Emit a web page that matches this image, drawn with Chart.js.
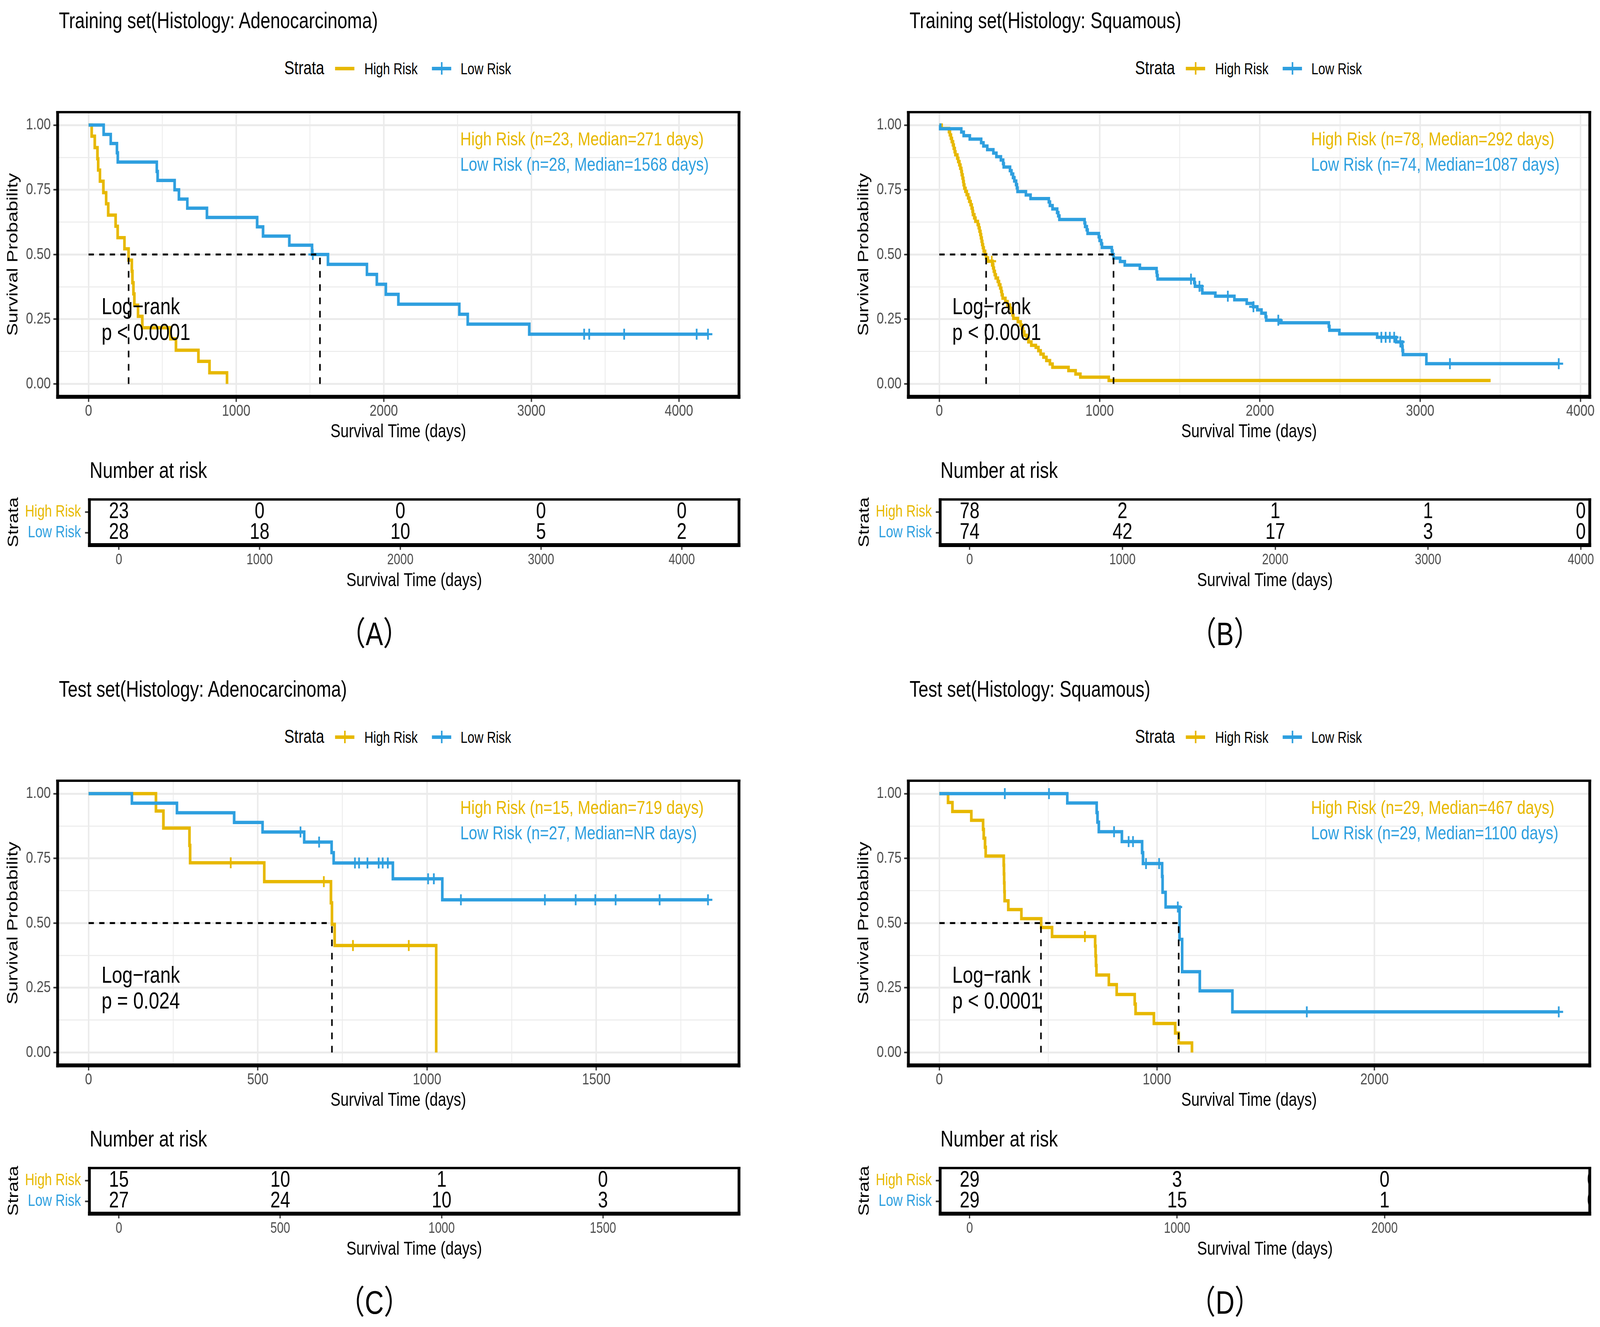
<!DOCTYPE html>
<html>
<head>
<meta charset="utf-8">
<script src="https://cdn.jsdelivr.net/npm/chart.js@4.4.1/dist/chart.umd.min.js"></script>
<style>
html,body{margin:0;padding:0;background:#fff;overflow:hidden;width:100%;height:100%;}
#wrap{position:relative;width:100vw;height:100vh;overflow:hidden;background:#fff;}
#root{position:absolute;left:0;top:0;width:5138px;height:3396px;background:#fff;font-family:"Liberation Sans",Arial,Helvetica,sans-serif;transform-origin:0 0;}
.t{position:absolute;white-space:nowrap;line-height:1;}
canvas{position:absolute;}
.k{position:absolute;}
</style>
</head>
<body>
<div id="wrap"><div id="root"></div></div>
<script>
const FF = '"Liberation Sans", Arial, Helvetica, sans-serif';
const YELLOW = '#E7B800', BLUE = '#2E9FDF', TICKCOL = '#4D4D4D';
const strataNames = ['High Risk', 'Low Risk'];
const kmYTickValues = [0, 0.25, 0.5, 0.75, 1];
const kmYTickLabels = ['0.00', '0.25', '0.50', '0.75', '1.00'];
const kmYMinor = [0.125, 0.375, 0.625, 0.875];

// ---------- Panel A : Training set, Adenocarcinoma ----------
const titleA = 'Training set(Histology: Adenocarcinoma)';
const nA = [23, 28];
const medianA = [271, 1568];
const pA = 'p < 0.0001';
const hiA_time = [21, 42, 60, 65, 77, 100, 119, 133, 183, 197, 243, 271, 293, 297, 304, 310, 335, 364, 554, 592, 744, 819, 938];
const hiA_surv = [0.957, 0.913, 0.870, 0.826, 0.783, 0.739, 0.696, 0.652, 0.609, 0.565, 0.522, 0.478, 0.435, 0.391, 0.348, 0.304, 0.261, 0.217, 0.174, 0.130, 0.087, 0.043, 0];
const hiA_cens = [];
const hiA_end = 938;
const loA_time = [102, 150, 192, 198, 462, 468, 583, 612, 669, 802, 1142, 1182, 1360, 1514, 1622, 1886, 1953, 2014, 2099, 2512, 2569, 2986];
const loA_surv = [0.964, 0.929, 0.893, 0.857, 0.821, 0.786, 0.750, 0.714, 0.679, 0.643, 0.607, 0.571, 0.536, 0.500, 0.462, 0.423, 0.385, 0.346, 0.308, 0.269, 0.231, 0.192];
const loA_cens = [1519, 3358, 3392, 3629, 4120, 4197];
const loA_end = 4197;
const xTicksA = [0, 1000, 2000, 3000, 4000];
const xMinorA = [500, 1500, 2500, 3500];
const riskTimesA = [0, 1000, 2000, 3000, 4000];
const riskHiA = [23, 0, 0, 0, 0];
const riskLoA = [28, 18, 10, 5, 2];

// ---------- Panel B : Training set, Squamous ----------
const titleB = 'Training set(Histology: Squamous)';
const nB = [78, 74];
const medianB = [292, 1087];
const pB = 'p < 0.0001';
const hiB_time = [14,60,66,72,78,85,90,96,100,112,118,125,131,137,140,145,149,152,156,163,171,180,187,195,202,207,210,218,225,240,246,251,256,260,264,268,272,277,285,292,303,332,336,340,346,352,365,372,380,386,390,395,412,425,441,450,457,462,490,507,514,522,530,545,556,574,602,618,632,650,668,690,706,806,850,880,1057];
const hiB_surv = [0.987,0.974,0.962,0.949,0.936,0.923,0.910,0.897,0.885,0.872,0.859,0.846,0.833,0.821,0.808,0.795,0.782,0.769,0.756,0.744,0.731,0.718,0.705,0.692,0.679,0.667,0.654,0.641,0.628,0.615,0.603,0.590,0.577,0.564,0.551,0.538,0.526,0.513,0.500,0.487,0.474,0.461,0.448,0.435,0.422,0.409,0.396,0.383,0.370,0.357,0.344,0.331,0.318,0.305,0.292,0.279,0.266,0.253,0.240,0.227,0.214,0.201,0.188,0.175,0.162,0.149,0.141,0.128,0.115,0.103,0.090,0.077,0.064,0.051,0.038,0.026,0.013];
const hiB_cens = [327];
const hiB_end = 3440;
const loB_time = [5,137,152,190,261,275,299,337,356,384,398,402,441,450,460,468,479,484,488,540,569,683,690,706,735,742,749,906,910,920,925,995,1000,1010,1015,1076,1080,1087,1128,1157,1251,1355,1358,1362,1591,1595,1638,1641,1722,1841,1918,1958,1984,2010,2036,2040,2128,2430,2434,2496,2732,2850,2888,2890,2893,3039];
const loB_surv = [0.986,0.973,0.959,0.946,0.932,0.919,0.905,0.892,0.878,0.865,0.851,0.838,0.824,0.811,0.797,0.784,0.770,0.757,0.743,0.730,0.716,0.703,0.689,0.676,0.662,0.649,0.635,0.622,0.608,0.595,0.581,0.568,0.554,0.541,0.527,0.514,0.500,0.486,0.473,0.459,0.446,0.432,0.419,0.405,0.391,0.377,0.364,0.351,0.339,0.325,0.311,0.298,0.286,0.273,0.259,0.246,0.236,0.222,0.207,0.193,0.180,0.162,0.144,0.129,0.113,0.078];
const loB_cens = [1570, 1623, 1800, 1960, 2115, 2758, 2785, 2811, 2838, 2876, 3186, 3865];
const loB_end = 3865;
const xTicksB = [0, 1000, 2000, 3000, 4000];
const xMinorB = [500, 1500, 2500, 3500];
const riskTimesB = [0, 1000, 2000, 3000, 4000];
const riskHiB = [78, 2, 1, 1, 0];
const riskLoB = [74, 42, 17, 3, 0];

// ---------- Panel C : Test set, Adenocarcinoma ----------
const titleC = 'Test set(Histology: Adenocarcinoma)';
const nC = [15, 27];
const medianC = [719, null];
const pC = 'p = 0.024';
const hiC_time = [199, 221, 298, 300, 519, 716, 719, 727, 1027];
const hiC_surv = [0.933, 0.867, 0.800, 0.733, 0.660, 0.578, 0.495, 0.413, 0];
const hiC_cens = [420, 695, 781, 946];
const hiC_end = 1027;
const loC_time = [128, 261, 430, 514, 637, 718, 724, 899, 1045];
const loC_surv = [0.963, 0.926, 0.889, 0.852, 0.813, 0.772, 0.732, 0.671, 0.590];
const loC_cens = [626, 681, 787, 799, 824, 857, 869, 884, 1003, 1020, 1100, 1348, 1439, 1497, 1557, 1687, 1830];
const loC_end = 1830;
const xTicksC = [0, 500, 1000, 1500];
const xMinorC = [250, 750, 1250, 1750];
const riskTimesC = [0, 500, 1000, 1500];
const riskHiC = [15, 10, 1, 0];
const riskLoC = [27, 24, 10, 3];

// ---------- Panel D : Test set, Squamous ----------
const titleD = 'Test set(Histology: Squamous)';
const nD = [29, 29];
const medianD = [467, 1100];
const pD = 'p < 0.0001';
const hiD_time = [40, 60, 147, 201, 204, 210, 213, 296, 297, 298, 299, 300, 317, 377, 468, 518, 716, 718, 720, 722, 779, 815, 898, 902, 986, 1084, 1100, 1161];
const hiD_surv = [0.966, 0.931, 0.897, 0.862, 0.828, 0.793, 0.759, 0.724, 0.690, 0.655, 0.621, 0.586, 0.552, 0.517, 0.483, 0.448, 0.411, 0.373, 0.336, 0.299, 0.262, 0.224, 0.187, 0.150, 0.112, 0.075, 0.037, 0];
const hiD_cens = [669];
const hiD_end = 1161;
const loD_time = [588, 723, 727, 733, 839, 932, 936, 1024, 1026, 1040, 1104, 1116, 1197, 1347];
const loD_surv = [0.964, 0.927, 0.890, 0.853, 0.815, 0.772, 0.730, 0.680, 0.619, 0.562, 0.437, 0.312, 0.238, 0.157];
const loD_cens = [301, 504, 803, 870, 890, 950, 1010, 1096, 1689, 2847];
const loD_end = 2847;
const xTicksD = [0, 1000, 2000];
const xMinorD = [500, 1500, 2500];
const riskTimesD = [0, 1000, 2000, 3000];
const riskHiD = [29, 3, 0, 0];
const riskLoD = [29, 15, 1, 0];

const labels = ['（A）', '（B）', '（C）', '（D）'];

// ---------------------------------------------------------------
const root = document.getElementById('root');
const DESIGN_W = 5138, DESIGN_H = 3396;
const sx = window.innerWidth / DESIGN_W, sy = window.innerHeight / DESIGN_H;
root.style.transform = 'scale(' + sx + ',' + sy + ')';

function txt(s, x, base, size, color, opts) {
  opts = opts || {};
  const d = document.createElement('div');
  d.className = 't';
  d.textContent = s;
  d.style.left = x + 'px';
  d.style.top = (base - 0.8465 * size) + 'px';
  d.style.fontSize = size + 'px';
  d.style.color = color || '#000';
  if (opts.center) d.style.transform = 'translateX(-50%)';
  if (opts.family) d.style.fontFamily = opts.family;
  root.appendChild(d);
}
function key(cx, cy, color, cross) {
  const l = document.createElement('div');
  l.className = 'k';
  Object.assign(l.style, {left: (cx - 31) + 'px', top: (cy - 4.5) + 'px', width: '62px', height: '9px', background: color});
  root.appendChild(l);
  if (cross) {
    const v = document.createElement('div');
    v.className = 'k';
    Object.assign(v.style, {left: (cx - 2.5) + 'px', top: (cy - 16) + 'px', width: '5px', height: '32px', background: color});
    root.appendChild(v);
  }
}
function mkCanvas(x, y, w, h) {
  const c = document.createElement('canvas');
  c.width = w; c.height = h;
  c.style.left = x + 'px'; c.style.top = y + 'px';
  c.style.width = w + 'px'; c.style.height = h + 'px';
  root.appendChild(c);
  return c;
}
function stepPoints(time, surv, end) {
  const pts = [{x: 0, y: 1}];
  for (let i = 0; i < time.length; i++) pts.push({x: time[i], y: surv[i]});
  const last = pts[pts.length - 1];
  if (end > last.x) pts.push({x: end, y: last.y});
  return pts;
}
function survAt(time, surv, t) {
  let s = 1;
  for (let i = 0; i < time.length; i++) if (time[i] <= t) s = surv[i];
  return s;
}
function framePlugin() {
  return {
    id: 'frame',
    afterDraw(chart) {
      const {ctx, chartArea: a} = chart;
      const lw = 9, tw = 6, bw = 10;
      ctx.save();
      ctx.fillStyle = '#000';
      ctx.fillRect(a.left - lw / 2, a.top - tw / 2, a.right - a.left + lw, tw);
      ctx.fillRect(a.left - lw / 2, a.bottom - bw / 2, a.right - a.left + lw, bw);
      ctx.fillRect(a.left - lw / 2, a.top - tw / 2, lw, a.bottom - a.top + (tw + bw) / 2);
      ctx.fillRect(a.right - lw / 2, a.top - tw / 2, lw, a.bottom - a.top + (tw + bw) / 2);
      ctx.restore();
    }
  };
}

const PLOT_L = 185, PLOT_R = 2373, PLOT_T = 287, PLOT_B = 1015.5;
const TAB_L = 287, TAB_R = 2373, TAB_T = 1264, TAB_B = 1395;
const DPR = Math.max(1, (window.devicePixelRatio || 1) * Math.max(sx, sy));

function kmChart(P, ox, oy) {
  const W = 2400, H = 930, top0 = 237;
  const cv = mkCanvas(ox, oy + top0, W, H);
  const xmin = -0.05 * P.maxTime, xmax = 1.05 * P.maxTime;
  const allX = P.xTicks.concat(P.xMinor).sort((a, b) => a - b);
  const allY = kmYTickValues.concat(kmYMinor).sort((a, b) => a - b);
  const isMajX = v => P.xTicks.indexOf(v) >= 0;
  const isMajY = v => kmYTickValues.indexOf(v) >= 0;
  const ds = [];
  ds.push({type: 'line', data: stepPoints(P.hi.time, P.hi.surv, P.hi.end), stepped: true, borderColor: YELLOW, borderWidth: 8.5, pointRadius: 0, fill: false, order: 6});
  ds.push({type: 'line', data: stepPoints(P.lo.time, P.lo.surv, P.lo.end), stepped: true, borderColor: BLUE, borderWidth: 8.5, pointRadius: 0, fill: false, order: 5});
  ds.push({type: 'scatter', data: P.hi.cens.map(t => ({x: t, y: survAt(P.hi.time, P.hi.surv, t)})), pointStyle: 'cross', pointRadius: 14, pointBorderWidth: 5.5, pointBorderColor: YELLOW, borderColor: YELLOW, order: 4});
  ds.push({type: 'scatter', data: P.lo.cens.map(t => ({x: t, y: survAt(P.lo.time, P.lo.surv, t)})), pointStyle: 'cross', pointRadius: 14, pointBorderWidth: 5.5, pointBorderColor: BLUE, borderColor: BLUE, order: 3});
  const meds = P.medians.filter(m => m != null);
  const mmax = Math.max.apply(null, meds);
  const dash = {type: 'line', borderColor: '#000', borderWidth: 5, borderDash: [17, 17], pointRadius: 0, fill: false, order: 1};
  ds.push(Object.assign({data: [{x: 0, y: 0.5}, {x: mmax, y: 0.5}]}, dash));
  meds.forEach(m => ds.push(Object.assign({data: [{x: m, y: 0}, {x: m, y: 0.5}]}, dash)));

  new Chart(cv, {
    type: 'scatter',
    data: {datasets: ds},
    options: {
      responsive: false, animation: false, events: [], devicePixelRatio: DPR,
      layout: {padding: {left: 0, top: PLOT_T - top0, right: W - PLOT_R, bottom: 0}},
      plugins: {legend: {display: false}, tooltip: {enabled: false}, title: {display: false}},
      scales: {
        x: {
          type: 'linear', min: xmin, max: xmax, bounds: 'data',
          afterBuildTicks: s => { s.ticks = allX.map(v => ({value: v})); },
          afterFit: s => { s.height = H - (PLOT_B - top0); },
          ticks: {autoSkip: false, maxRotation: 0, minRotation: 0, padding: 0, color: TICKCOL, font: {family: FF, size: 41},
                  callback: v => isMajX(v) ? String(v) : ''},
          grid: {color: '#EBEBEB', lineWidth: c => isMajX(c.tick.value) ? 5 : 2.5, drawTicks: true, tickLength: 13, tickWidth: 4,
                 tickColor: c => isMajX(c.tick.value) ? '#333333' : 'rgba(0,0,0,0)'},
          border: {display: false},
          title: {display: true, text: 'Survival Time (days)', color: '#000', font: {family: FF, size: 48}, padding: {top: 0, bottom: 32}}
        },
        y: {
          type: 'linear', min: -0.05, max: 1.05, bounds: 'data',
          afterBuildTicks: s => { s.ticks = allY.map(v => ({value: v})); },
          afterFit: s => { s.width = PLOT_L; },
          ticks: {autoSkip: false, padding: 8.5, color: TICKCOL, font: {family: FF, size: 41},
                  callback: v => { const i = kmYTickValues.indexOf(v); return i >= 0 ? kmYTickLabels[i] : ''; }},
          grid: {color: '#EBEBEB', lineWidth: c => isMajY(c.tick.value) ? 5 : 2.5, drawTicks: true, tickLength: 13.5, tickWidth: 4,
                 tickColor: c => isMajY(c.tick.value) ? '#333333' : 'rgba(0,0,0,0)'},
          border: {display: false},
          title: {display: true, text: 'Survival Probability', color: '#000', font: {family: FF, size: 49}, padding: {top: 13, bottom: 0}}
        }
      }
    },
    plugins: [framePlugin()]
  });
}

function tableChart(P, ox, oy) {
  const W = 2400, H = 290, top0 = 1240;
  const cv = mkCanvas(ox, oy + top0, W, H);
  const xmin = -0.05 * P.maxTime, xmax = 1.05 * P.maxTime;
  const numbers = {
    id: 'numbers',
    afterDatasetsDraw(chart) {
      const {ctx, chartArea: a, scales} = chart;
      ctx.save();
      ctx.beginPath(); ctx.rect(a.left, a.top, a.right - a.left, a.bottom - a.top); ctx.clip();
      ctx.fillStyle = '#000';
      ctx.font = '57px ' + FF;
      ctx.textAlign = 'center'; ctx.textBaseline = 'middle';
      P.riskTimes.forEach((t, i) => {
        const x = scales.x.getPixelForValue(t);
        ctx.fillText(String(P.riskHi[i]), x, scales.y.getPixelForValue(1));
        ctx.fillText(String(P.riskLo[i]), x, scales.y.getPixelForValue(2));
      });
      ctx.restore();
    }
  };
  new Chart(cv, {
    type: 'scatter',
    data: {datasets: [{data: [], pointRadius: 0}]},
    options: {
      responsive: false, animation: false, events: [], devicePixelRatio: DPR,
      layout: {padding: {left: 0, top: TAB_T - top0, right: W - TAB_R, bottom: 0}},
      plugins: {legend: {display: false}, tooltip: {enabled: false}},
      scales: {
        x: {
          type: 'linear', min: xmin, max: xmax, bounds: 'data',
          afterBuildTicks: s => { s.ticks = P.xTicks.map(v => ({value: v})); },
          afterFit: s => { s.height = H - (TAB_B - top0); },
          ticks: {autoSkip: false, maxRotation: 0, minRotation: 0, padding: 3.7, color: TICKCOL, font: {family: FF, size: 38},
                  callback: v => String(v)},
          grid: {drawOnChartArea: false, drawTicks: true, tickLength: 12, tickWidth: 4, tickColor: '#333333'},
          border: {display: false},
          title: {display: true, text: 'Survival Time (days)', color: '#000', font: {family: FF, size: 48}, padding: {top: 0, bottom: 14}}
        },
        y: {
          type: 'linear', min: 0.4, max: 2.6, reverse: true, bounds: 'data',
          afterBuildTicks: s => { s.ticks = [{value: 1}, {value: 2}]; },
          afterFit: s => { s.width = TAB_L; },
          ticks: {autoSkip: false, padding: 13, font: {family: FF, size: 42},
                  color: c => (c.tick && c.tick.value === 1) ? YELLOW : BLUE,
                  callback: v => v === 1 ? strataNames[0] : (v === 2 ? strataNames[1] : '')},
          grid: {drawOnChartArea: false, drawTicks: true, tickLength: 14, tickWidth: 4, tickColor: '#333333'},
          border: {display: false},
          title: {display: true, text: 'Strata', color: '#000', font: {family: FF, size: 48}, padding: {top: 16, bottom: 0}}
        }
      }
    },
    plugins: [numbers, framePlugin()]
  });
}

function panel(P, ox, oy) {
  kmChart(P, ox, oy);
  tableChart(P, ox, oy);
  txt(P.title, ox + 189, oy + 72, 57, '#000');
  txt('Strata', ox + 913, oy + 191, 48, '#000');
  key(ox + 1107, oy + 175, YELLOW, P.hi.cens.length > 0);
  txt(strataNames[0], ox + 1170, oy + 190, 40, '#000');
  key(ox + 1418, oy + 175, BLUE, P.lo.cens.length > 0);
  txt(strataNames[1], ox + 1479, oy + 190, 40, '#000');
  const medTxt = m => (m == null ? 'NR' : String(m));
  txt(strataNames[0] + ' (n=' + P.n[0] + ', Median=' + medTxt(P.medians[0]) + ' days)', ox + 1478, oy + 372, 49, YELLOW);
  txt(strataNames[1] + ' (n=' + P.n[1] + ', Median=' + medTxt(P.medians[1]) + ' days)', ox + 1478, oy + 437, 49, BLUE);
  txt('Log\u2212rank', ox + 326, oy + 805, 60, '#000');
  txt(P.p, ox + 326, oy + 871, 60, '#000');
  txt('Number at risk', ox + 288, oy + 1223, 58, '#000');
  txt(P.label, ox + 1202, oy + 1651, 84, '#000', {center: true, family: '"Liberation Sans", "Noto Sans CJK SC", sans-serif'});
}

function spec(title, n, medians, p, hi, lo, xTicks, xMinor, riskTimes, riskHi, riskLo, label) {
  const maxTime = Math.max(hi.end, lo.end, Math.max.apply(null, hi.time.concat(hi.cens, lo.time, lo.cens)));
  return {title, n, medians, p, hi, lo, xTicks, xMinor, riskTimes, riskHi, riskLo, label, maxTime};
}

const PA = spec(titleA, nA, medianA, pA, {time: hiA_time, surv: hiA_surv, cens: hiA_cens, end: hiA_end}, {time: loA_time, surv: loA_surv, cens: loA_cens, end: loA_end}, xTicksA, xMinorA, riskTimesA, riskHiA, riskLoA, labels[0]);
const PB = spec(titleB, nB, medianB, pB, {time: hiB_time, surv: hiB_surv, cens: hiB_cens, end: hiB_end}, {time: loB_time, surv: loB_surv, cens: loB_cens, end: loB_end}, xTicksB, xMinorB, riskTimesB, riskHiB, riskLoB, labels[1]);
const PC = spec(titleC, nC, medianC, pC, {time: hiC_time, surv: hiC_surv, cens: hiC_cens, end: hiC_end}, {time: loC_time, surv: loC_surv, cens: loC_cens, end: loC_end}, xTicksC, xMinorC, riskTimesC, riskHiC, riskLoC, labels[2]);
const PD = spec(titleD, nD, medianD, pD, {time: hiD_time, surv: hiD_surv, cens: hiD_cens, end: hiD_end}, {time: loD_time, surv: loD_surv, cens: loD_cens, end: loD_end}, xTicksD, xMinorD, riskTimesD, riskHiD, riskLoD, labels[3]);

panel(PA, 0, 0);
panel(PB, 2732, 0);
panel(PC, 0, 1711);
panel(PD, 2732, 1711);
</script>
</body>
</html>
